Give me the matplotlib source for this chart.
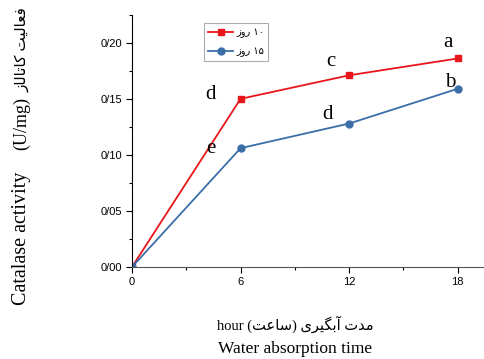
import matplotlib
matplotlib.use('Agg')

import matplotlib.pyplot as plt
from matplotlib.ticker import MultipleLocator, FuncFormatter

# ساعت آبگیری و فعالیت کاتالاز
hours = [0, 6, 12, 18]
day10 = [0.0, 0.150, 0.171, 0.186]
day15 = [0.0, 0.106, 0.128, 0.159]

series_names = ['۱۰ روز', '۱۵ روز']
letters = ['a', 'b', 'c', 'd', 'd', 'e']
letter_xy = [(17.45, 0.200), (17.6, 0.165), (11.0, 0.183),
             (4.35, 0.154), (10.8, 0.136), (4.35, 0.106)]

# contextual forms: isolated, final, initial, medial
FORMS = {
    'ا': ('\uFE8D', '\uFE8E', None, None),
    'آ': ('\uFE81', '\uFE82', None, None),
    'ب': ('\uFE8F', '\uFE90', '\uFE91', '\uFE92'),
    'ت': ('\uFE95', '\uFE96', '\uFE97', '\uFE98'),
    'د': ('\uFEA9', '\uFEAA', None, None),
    'ر': ('\uFEAD', '\uFEAE', None, None),
    'ز': ('\uFEAF', '\uFEB0', None, None),
    'س': ('\uFEB1', '\uFEB2', '\uFEB3', '\uFEB4'),
    'ع': ('\uFEC9', '\uFECA', '\uFECB', '\uFECC'),
    'ف': ('\uFED1', '\uFED2', '\uFED3', '\uFED4'),
    'ل': ('\uFEDD', '\uFEDE', '\uFEDF', '\uFEE0'),
    'م': ('\uFEE1', '\uFEE2', '\uFEE3', '\uFEE4'),
    'و': ('\uFEED', '\uFEEE', None, None),
    'ی': ('\uFBFC', '\uFBFD', '\uFBFE', '\uFBFF'),
    'ک': ('\uFB8E', '\uFB8F', '\uFB90', '\uFB91'),
    'گ': ('\uFB92', '\uFB93', '\uFB94', '\uFB95'),
}


def fa(text):
    """shape persian letters and return them in visual (left-to-right) order"""
    out = []
    for i, ch in enumerate(text):
        if ch not in FORMS:
            out.append(ch)
            continue
        prev = text[i - 1] if i > 0 else ''
        nxt = text[i + 1] if i + 1 < len(text) else ''
        join_prev = prev in FORMS and FORMS[prev][2] is not None
        join_next = FORMS[ch][2] is not None and nxt in FORMS
        iso, fin, ini, med = FORMS[ch]
        if join_prev and join_next:
            out.append(med)
        elif join_prev:
            out.append(fin)
        elif join_next:
            out.append(ini)
        else:
            out.append(iso)
    return ''.join(reversed(out))


def fa_label(text):
    # digits stay left-to-right at the right end of the label
    num, word = text.split(' ')
    return fa(word) + ' ' + num


serif = ['Liberation Serif', 'DejaVu Sans']

fig = plt.figure(figsize=(4.85, 3.59), dpi=100)
ax = fig.add_axes([0.272, 0.256, 0.726, 0.703])

red = '#e8161b'
blue = '#3b6ea8'
ax.plot(hours, day10, color=red, lw=1.3, marker='s', ms=5, label=fa_label(series_names[0]))
ax.plot(hours, day15, color=blue, lw=1.3, marker='o', ms=5, label=fa_label(series_names[1]))

for s, (x, y) in zip(letters, letter_xy):
    ax.text(x, y, s, ha='center', va='center', fontsize=15, family=serif)

ax.set_xlim(0, 19.45)
ax.set_ylim(0, 0.225)
ax.xaxis.set_major_locator(MultipleLocator(6))
ax.xaxis.set_minor_locator(MultipleLocator(3))
ax.yaxis.set_major_locator(MultipleLocator(0.05))
ax.yaxis.set_minor_locator(MultipleLocator(0.025))
ax.yaxis.set_major_formatter(FuncFormatter(lambda v, p: f'{v:.2f}'.replace('.', '/')))

for side in ['top', 'right']:
    ax.spines[side].set_visible(False)
ax.spines['left'].set_color('black')
ax.spines['bottom'].set_color('#555555')
ax.tick_params(which='major', direction='out', length=4, width=0.8, labelsize=8, pad=3)
ax.tick_params(which='minor', direction='out', length=2.5, width=0.8)
for lab in ax.get_xticklabels() + ax.get_yticklabels():
    lab.set_family(['Liberation Sans', 'DejaVu Sans'])

leg = ax.legend(loc='upper left', bbox_to_anchor=(0.198, 0.975),
                frameon=True, fancybox=False, edgecolor='#999999',
                handlelength=2.6, handletextpad=0.3, borderpad=0.45,
                labelspacing=0.8, borderaxespad=0.2,
                prop={'family': ['DejaVu Sans'], 'size': 7})
leg.get_frame().set_linewidth(0.8)

# y title in three parts, read bottom to top
fig.text(22 / 485, 1 - 238 / 359, 'Catalase activity', rotation=90,
         ha='center', va='center', fontsize=14.5, family=serif)
fig.text(22 / 485, 1 - 124 / 359, '(U/mg)', rotation=90,
         ha='center', va='center', fontsize=13, family=serif)
fig.text(22 / 485, 1 - 50 / 359, fa('فعالیت کاتالاز'), rotation=90,
         ha='center', va='center', fontsize=11, family=serif)

xlabel1 = 'hour (' + fa('ساعت') + ') ' + fa('مدت آبگیری')
fig.text(295 / 485, 1 - 324 / 359, xlabel1, ha='center', va='center', fontsize=10.5, family=serif)
fig.text(295 / 485, 1 - 349 / 359, 'Water absorption time', ha='center', va='center',
         fontsize=12.5, family=serif)

plt.savefig('out.png', dpi=100)
plt.close()
